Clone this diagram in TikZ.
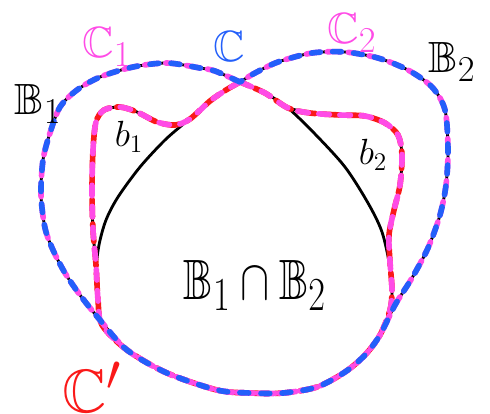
\documentclass[tikz,border=0pt]{standalone}
\usepackage{amssymb}
\definecolor{penblue}{RGB}{35,95,250}
\definecolor{penpink}{RGB}{255,75,230}
\definecolor{penred}{RGB}{250,25,25}
% outline of B1 u B2, starting and ending at the crossing
\newcommand{\unionpts}{(240,82) (215,71) (200,68) (167,63) (133,67) (100,77) (77,90) (60,107) (50,133) (43,160) (41,195) (45,228) (53,250) (65,273) (80,295) (100,320) (127,350) (167,373) (217,390) (250,393) (283,393) (317,387) (345,372) (365,355) (380,335) (395,305) (412,278) (428,248) (440,215) (446,185) (448,150) (445,110) (432,87) (408,70) (378,58) (345,52) (312,53) (278,62) (255,73) (240,82)}
% outline of (B1 n B2) u b1 u b2
\newcommand{\cprimepts}{(240,82) (226,90) (210,101) (190,119) (175,125) (157,122) (137,112) (120,107) (104,110) (96,122) (93,150) (92,190) (93,230) (96,265) (98,300) (102,325) (127,350) (167,373) (217,390) (250,393) (283,393) (317,387) (345,372) (365,355) (380,335) (390,310) (392,290) (390,262) (389,235) (394,210) (400,185) (402,155) (398,135) (385,123) (365,116) (340,115) (310,113) (288,108) (265,93) (240,82)}
\begin{document}
\begin{tikzpicture}[x=0.02cm, y=-0.02cm,
  ink/.style={line width=1.6pt, line join=round, line cap=round},
  bluepen/.style={penblue, line width=3.2pt, line cap=round, dash pattern=on 5pt off 7pt},
  pinkpen/.style={penpink, line width=3.2pt, line cap=round, dash pattern=on 6pt off 6pt},
  redpen/.style={penred, line width=3.2pt, line cap=round, dash pattern=on 10pt off 4pt},
  lbl/.style={inner sep=0pt, font=\Huge}]
\useasboundingbox (0,0) rectangle (490,413);

% the two sets
\draw[ink] plot[smooth cycle] coordinates {(240,82) (215,71) (200,68) (167,63) (133,67) (100,77) (77,90) (60,107) (50,133) (43,160) (41,195) (45,228) (53,250) (65,273) (80,295) (100,320) (127,350) (167,373) (217,390) (250,393) (283,393) (317,387) (345,372) (365,355) (380,335) (390,310) (392,290) (390,267) (382,232) (368,203) (345,167) (315,134) (288,108) (265,93)};
\draw[ink] plot[smooth cycle] coordinates {(240,82) (255,73) (278,62) (312,53) (345,52) (378,58) (408,70) (432,87) (445,110) (448,150) (446,185) (440,215) (428,248) (412,278) (395,305) (380,335) (365,355) (345,372) (317,387) (283,393) (250,393) (217,390) (167,373) (127,350) (102,325) (98,300) (96,272) (99,245) (106,220) (118,197) (140,167) (165,140) (187,121) (210,101) (226,90)};
% the bumps b1 and b2
\draw[ink] plot[smooth] coordinates {(190,119) (175,125) (157,122) (137,112) (120,107) (104,110) (96,122) (93,150) (92,190) (93,230) (96,265)};
\draw[ink] plot[smooth] coordinates {(288,108) (310,113) (340,115) (365,116) (385,123) (398,135) (402,155) (400,185) (394,210) (389,235) (390,262) (392,290)};

% curves
\draw[redpen] plot[smooth] coordinates {\cprimepts};
\draw[pinkpen] plot[smooth] coordinates {\cprimepts};
\draw[pinkpen, dash pattern=on 8pt off 4pt] plot[smooth] coordinates {\unionpts};
\draw[bluepen] plot[smooth] coordinates {\unionpts};

% labels
\node[lbl, text=penpink] (cone) at (107,47) {$\mathbb{C}_1$};
\node[lbl, text=penblue] (cc) at (229,46) {$\mathbb{C}$};
\node[lbl, text=penpink] (ctwo) at (352,33) {$\mathbb{C}_2$};
\node[lbl] (bone) at (38,104) {$\mathbb{B}_1$};
\node[lbl] (btwo) at (452,62) {$\mathbb{B}_2$};
\node[lbl, font=\huge] (sbone) at (129,137) {$b_1$};
\node[lbl, font=\huge] (sbtwo) at (373,155) {$b_2$};
\node[lbl] (cap) at (255,285) {\scalebox{1}[1.3]{$\mathbb{B}_1\cap\mathbb{B}_2$}};
\node[lbl, text=penred] (cprime) at (92,387) {\scalebox{1.4}{$\mathbb{C}'$}};
\end{tikzpicture}
\end{document}
